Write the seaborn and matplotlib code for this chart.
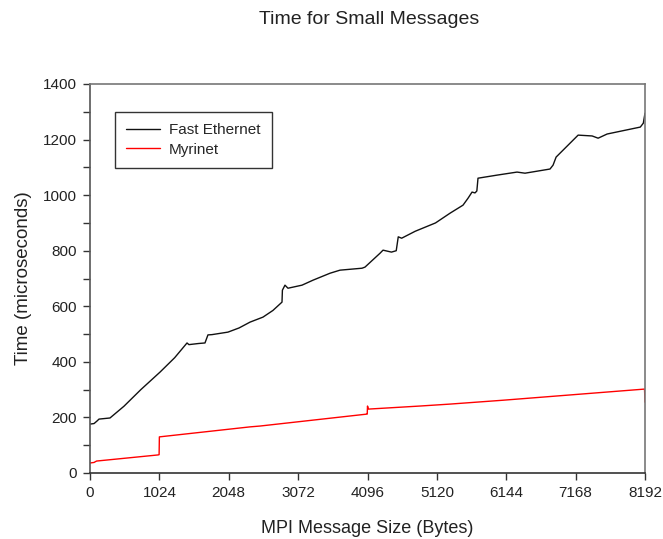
import numpy as np
import pandas as pd
import matplotlib
matplotlib.use("Agg")
import matplotlib.pyplot as plt
from matplotlib.ticker import MultipleLocator
import seaborn as sns

# Fast Ethernet curve
eth_x = [0, 60, 103, 133, 295, 500, 750, 1033, 1250, 1432, 1460, 1600, 1697, 1741, 1800, 2036,
         2200, 2362, 2553, 2700, 2834, 2840, 2878, 2922, 3129, 3292, 3543, 3690, 4015, 4059,
         4281, 4325, 4450, 4520, 4550, 4600, 4800, 5100, 5314, 5506, 5580, 5639, 5683, 5710,
         5727, 6007, 6303, 6421, 6790, 6835, 6880, 7205, 7412, 7500, 7633, 8123, 8167, 8192]
eth_y = [176, 178, 187, 194, 198, 240, 300, 363, 415, 468, 462, 466, 468, 497, 498, 507,
         522, 543, 561, 585, 615, 658, 676, 665, 676, 694, 719, 730, 737, 741,
         791, 802, 795, 800, 850, 845, 870, 900, 935, 964, 989, 1011, 1008, 1015,
         1061, 1072, 1083, 1079, 1094, 1108, 1137, 1216, 1213, 1205, 1220, 1245, 1259, 1295]

# Myrinet curve
myr_x = [0, 60, 74, 97, 1004, 1020, 1024, 2362, 2509, 4088, 4092, 4096, 4110, 4870, 5314, 6101, 8185, 8192]
myr_y = [36, 38, 40, 43, 65, 66, 130, 166, 169, 212, 212, 241, 230, 241, 248, 262, 302, 255]

series = ["Fast Ethernet", "Myrinet"]
colors = ["#111111", "red"]

df = pd.concat([
    pd.DataFrame({"size": eth_x, "time": eth_y, "net": series[0]}),
    pd.DataFrame({"size": myr_x, "time": myr_y, "net": series[1]}),
])

sns.set_style("ticks")
plt.rcParams["font.family"] = ["Liberation Sans", "DejaVu Sans"]

fig = plt.figure(figsize=(6.63, 5.39), dpi=100)
ax = fig.add_axes([90 / 663, 1 - 473 / 539, 555 / 663, 389 / 539])

sns.lineplot(data=df, x="size", y="time", hue="net", palette=colors,
             estimator=None, sort=False, linewidth=1.0, ax=ax)

ax.set_xlim(0, 8192)
ax.set_ylim(0, 1400)
ax.set_xticks(np.arange(0, 8193, 1024))
ax.yaxis.set_major_locator(MultipleLocator(200))
ax.yaxis.set_minor_locator(MultipleLocator(100))
ax.tick_params(which="both", direction="out", length=5, width=1, colors="#333333",
               labelsize=11, labelcolor="#222222", pad=4.5)
for sp in ax.spines.values():
    sp.set_color("#777777")
    sp.set_linewidth(1.2)
ax.spines["left"].set_color("#555555")
ax.spines["bottom"].set_color("#333333")

ax.set_xlabel("MPI Message Size (Bytes)", fontsize=13, labelpad=14, color="#222222")
ax.set_ylabel("Time (microseconds)", fontsize=13.5, labelpad=8, color="#222222")
fig.text(369 / 663, 1 - 19 / 539, "Time for Small Messages", ha="center", va="center",
         fontsize=14, color="#222222")

leg = ax.legend(title=None, loc="upper left", bbox_to_anchor=(25 / 555, (473 - 112) / 389),
                borderaxespad=0, fontsize=11, frameon=True, fancybox=False, borderpad=0.75,
                handlelength=2.2, handletextpad=0.6, labelspacing=0.35)
leg.get_frame().set_edgecolor("black")
leg.get_frame().set_linewidth(1.0)

fig.savefig("out.png", dpi=100)
